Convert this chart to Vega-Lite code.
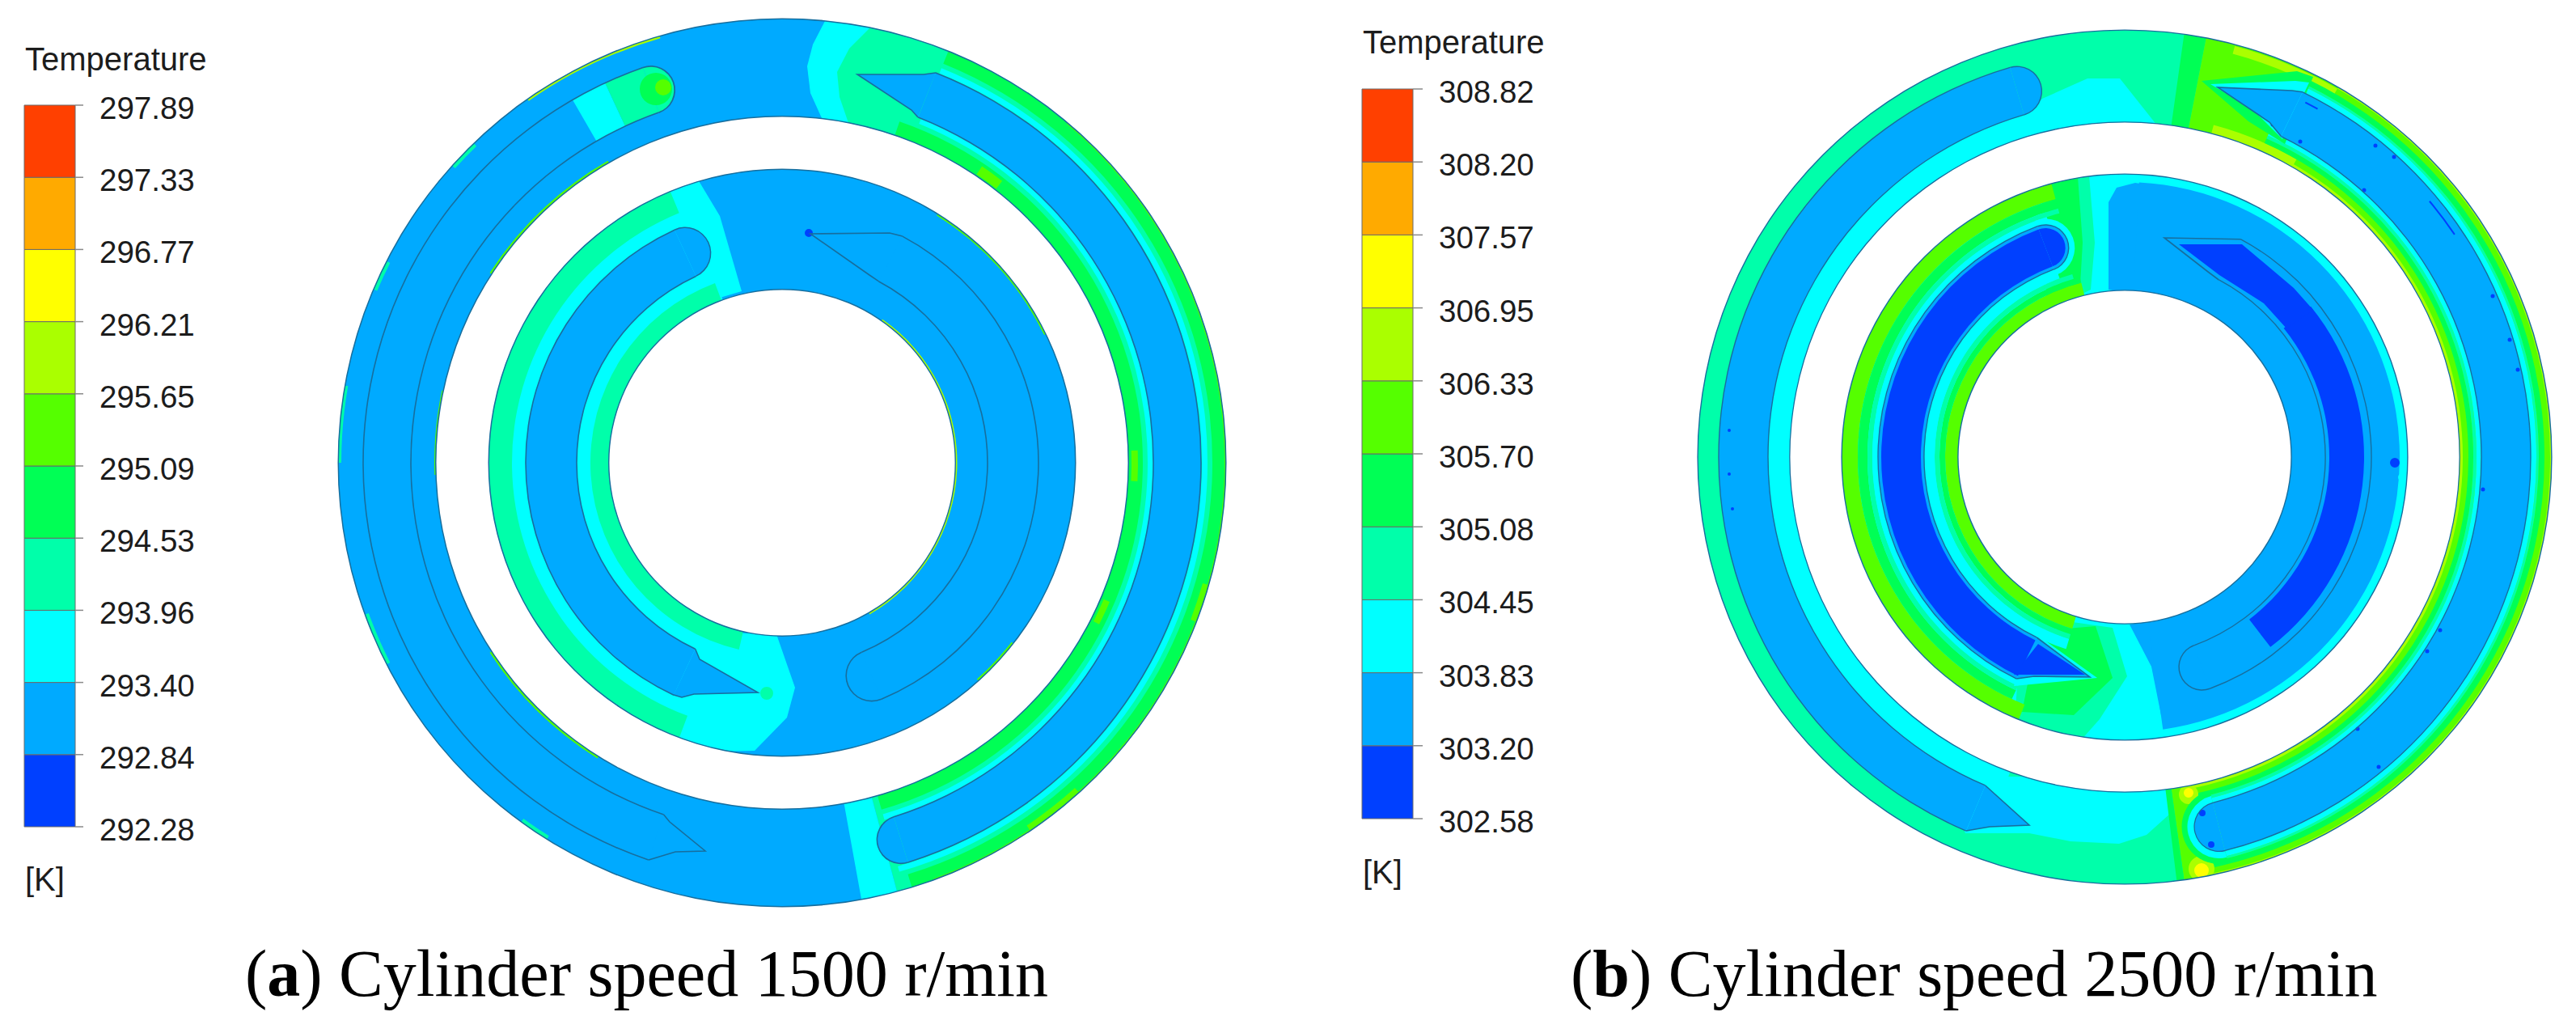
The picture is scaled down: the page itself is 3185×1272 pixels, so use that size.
{
"$schema":"https://vega.github.io/schema/vega-lite/v6.json",
"width":3185,"height":1272,"padding":0,"autosize":"none","background":"white",
"view":{"stroke":null},
"datasets":{
"arcs":[
{"z":1,"x":967,"y":572,"r0":428,"r1":549,"a0":0,"a1":360,"t":"2"},
{"z":1,"x":967,"y":572,"r0":214,"r1":363,"a0":0,"a1":360,"t":"2"},
{"z":1,"x":2627,"y":565,"r0":414,"r1":528,"a0":0,"a1":360,"t":"4"},
{"z":1,"x":2627,"y":565,"r0":206,"r1":350,"a0":0,"a1":360,"t":"3"},

{"z":2,"x":967,"y":572,"r0":428,"r1":549,"a0":19,"a1":165,"t":"4"},
{"z":2,"x":967,"y":572,"r0":428,"r1":549,"a0":165,"a1":169.7,"t":"3"},
{"z":2,"x":967,"y":572,"r0":532,"r1":549,"a0":22,"a1":163,"t":"5"},
{"z":2,"x":967,"y":572,"r0":428,"r1":446,"a0":19,"a1":164,"t":"5"},
{"z":2,"x":967,"y":572,"r0":519,"r1":526,"a0":22,"a1":164,"t":"3"},
{"z":2,"x":967,"y":572,"r0":452,"r1":459,"a0":22,"a1":164,"t":"3"},
{"z":2,"x":967,"y":572,"r0":547,"r1":549,"a0":40,"a1":160,"t":"6"},
{"z":2,"x":967,"y":572,"r0":430,"r1":442,"a0":34,"a1":38,"t":"6"},
{"z":2,"x":967,"y":572,"r0":432,"r1":440,"a0":88,"a1":93,"t":"6"},
{"z":2,"x":967,"y":572,"r0":432,"r1":440,"a0":113,"a1":117,"t":"6"},
{"z":2,"x":967,"y":572,"r0":541,"r1":549,"a0":106,"a1":111,"t":"6"},
{"z":2,"x":967,"y":572,"r0":541,"r1":549,"a0":138,"a1":146,"t":"6"},
{"z":2,"x":967,"y":572,"r0":428,"r1":431,"a0":212,"a1":237,"t":"6"},
{"z":2,"x":967,"y":572,"r0":428,"r1":431,"a0":303,"a1":330,"t":"6"},
{"z":2,"x":967,"y":572,"r0":428,"r1":430,"a0":268,"a1":282,"t":"6"},
{"z":2,"x":967,"y":572,"r0":546,"r1":549,"a0":325,"a1":344,"t":"7"},
{"z":2,"x":967,"y":572,"r0":544,"r1":549,"a0":312,"a1":316,"t":"4"},
{"z":2,"x":967,"y":572,"r0":544,"r1":549,"a0":293,"a1":297,"t":"4"},
{"z":2,"x":967,"y":572,"r0":545,"r1":549,"a0":270,"a1":280,"t":"4"},
{"z":2,"x":967,"y":572,"r0":544,"r1":549,"a0":243,"a1":250,"t":"4"},
{"z":2,"x":967,"y":572,"r0":544,"r1":549,"a0":212,"a1":216,"t":"4"},
{"z":2,"x":967,"y":572,"r0":214,"r1":363,"a0":200,"a1":340,"t":"3"},
{"z":2,"x":967,"y":572,"r0":334,"r1":363,"a0":200.5,"a1":337.6,"t":"4"},
{"z":2,"x":967,"y":572,"r0":214,"r1":237,"a0":193,"a1":339.5,"t":"4"},
{"z":2,"x":948,"y":857,"r0":0,"r1":8,"a0":0,"a1":360,"t":"4"},
{"z":2,"x":967,"y":572,"r0":214,"r1":216.5,"a0":35,"a1":150,"t":"7"},
{"z":2,"x":967,"y":572,"r0":360.5,"r1":363,"a0":32,"a1":64,"t":"6"},
{"z":2,"x":967,"y":572,"r0":360,"r1":363,"a0":128,"a1":138,"t":"6"},

{"z":2,"x":2627,"y":565,"r0":206,"r1":340,"a0":3,"a1":172,"t":"2"},
{"z":2,"x":2627,"y":565,"r0":330,"r1":350,"a0":202,"a1":345,"t":"6"},
{"z":2,"x":2627,"y":565,"r0":318,"r1":330,"a0":205,"a1":345,"t":"5"},
{"z":2,"x":2627,"y":565,"r0":312,"r1":318,"a0":205,"a1":345,"t":"4"},
{"z":2,"x":2627,"y":565,"r0":305,"r1":312,"a0":205,"a1":342,"t":"3"},
{"z":2,"x":2627,"y":565,"r0":206,"r1":222,"a0":197,"a1":346,"t":"6"},
{"z":2,"x":2627,"y":565,"r0":222,"r1":229,"a0":197,"a1":346,"t":"5"},
{"z":2,"x":2627,"y":565,"r0":229,"r1":235,"a0":197,"a1":344,"t":"4"},
{"z":2,"x":2627,"y":565,"r0":235,"r1":248,"a0":197,"a1":340,"t":"3"},
{"z":2,"x":2529.3,"y":306.4,"r0":0,"r1":36,"a0":339.3,"a1":519.3,"t":"3"},
{"z":2,"x":2961,"y":572,"r0":0,"r1":6,"a0":0,"a1":360,"t":"1"},
{"z":2,"x":2970,"y":590,"r0":0,"r1":5,"a0":0,"a1":360,"t":"3"},

{"z":2,"x":2627,"y":565,"r0":414,"r1":528,"a0":8,"a1":11,"t":"5"},
{"z":2,"x":2627,"y":565,"r0":414,"r1":528,"a0":11,"a1":172,"t":"6"},
{"z":2,"x":2627,"y":565,"r0":414,"r1":528,"a0":172,"a1":173,"t":"5"},
{"z":2,"x":2627,"y":565,"r0":516,"r1":526,"a0":15,"a1":30,"t":"7"},
{"z":2,"x":2627,"y":565,"r0":414,"r1":425,"a0":15,"a1":30,"t":"7"},
{"z":2,"x":2627,"y":565,"r0":526,"r1":528,"a0":30,"a1":170,"t":"7"},
{"z":2,"x":2627,"y":565,"r0":512,"r1":519,"a0":24,"a1":168,"t":"5"},
{"z":2,"x":2627,"y":565,"r0":509,"r1":512,"a0":24,"a1":168,"t":"4"},
{"z":2,"x":2627,"y":565,"r0":502,"r1":509,"a0":24,"a1":168,"t":"3"},
{"z":2,"x":2627,"y":565,"r0":414,"r1":418,"a0":28,"a1":170,"t":"7"},
{"z":2,"x":2627,"y":565,"r0":425,"r1":431,"a0":24,"a1":168,"t":"5"},
{"z":2,"x":2627,"y":565,"r0":431,"r1":435,"a0":24,"a1":168,"t":"4"},
{"z":2,"x":2627,"y":565,"r0":435,"r1":441,"a0":24,"a1":168,"t":"3"},
{"z":2,"x":2627,"y":565,"r0":414,"r1":441,"a0":200,"a1":345,"t":"3"},
{"z":2,"x":2706,"y":982,"r0":0,"r1":12,"a0":0,"a1":360,"t":"7"},
{"z":2,"x":2706,"y":980,"r0":0,"r1":6,"a0":0,"a1":360,"t":"8"},
{"z":2,"x":2722,"y":1074,"r0":0,"r1":16,"a0":0,"a1":360,"t":"7"},
{"z":2,"x":2722,"y":1076,"r0":0,"r1":9,"a0":0,"a1":360,"t":"8"},
{"z":2,"x":2743.5,"y":1021.9,"r0":0,"r1":46,"a0":165.7,"a1":345.7,"t":"5"},
{"z":2,"x":2743.5,"y":1021.9,"r0":0,"r1":39,"a0":165.7,"a1":345.7,"t":"3"},

{"z":3,"x":967,"y":572,"r0":549,"r1":600,"a0":0,"a1":360,"t":"w"},
{"z":3,"x":967,"y":572,"r0":363,"r1":428,"a0":0,"a1":360,"t":"w"},
{"z":3,"x":967,"y":572,"r0":0,"r1":214,"a0":0,"a1":360,"t":"w"},
{"z":3,"x":2627,"y":565,"r0":528,"r1":590,"a0":0,"a1":360,"t":"w"},
{"z":3,"x":2627,"y":565,"r0":350,"r1":414,"a0":0,"a1":360,"t":"w"},
{"z":3,"x":2627,"y":565,"r0":0,"r1":206,"a0":0,"a1":360,"t":"w"},

{"z":4,"x":967,"y":572,"r0":459,"r1":518,"a0":21.5,"a1":162.5,"t":"2"},
{"z":4,"x":1113.9,"y":1037.9,"r0":0,"r1":29.5,"a0":162.5,"a1":342.5,"t":"2"},
{"z":4,"x":967,"y":572,"r0":459,"r1":518,"a0":198.6,"a1":330,"t":"2"},
{"z":4,"x":967,"y":572,"r0":459,"r1":518,"a0":330,"a1":335,"t":"3"},
{"z":4,"x":967,"y":572,"r0":459,"r1":518,"a0":335,"a1":340.6,"t":"4"},
{"z":4,"x":804.8,"y":111.3,"r0":0,"r1":29.5,"a0":340.6,"a1":520.6,"t":"4"},
{"z":4,"x":811,"y":110,"r0":0,"r1":20,"a0":0,"a1":360,"t":"5"},
{"z":4,"x":820,"y":108,"r0":0,"r1":10,"a0":0,"a1":360,"t":"6"},
{"z":4,"x":967,"y":572,"r0":254,"r1":317,"a0":28,"a1":157.2,"t":"2"},
{"z":4,"x":1077.6,"y":835.2,"r0":0,"r1":31.5,"a0":157.2,"a1":337.2,"t":"2"},
{"z":4,"x":967,"y":572,"r0":254,"r1":317,"a0":205,"a1":335.2,"t":"2"},
{"z":4,"x":847.2,"y":312.8,"r0":0,"r1":31.5,"a0":335.2,"a1":515.2,"t":"2"},
{"z":4,"x":1000,"y":288,"r0":0,"r1":5,"a0":0,"a1":360,"t":"1"},

{"z":4,"x":2627,"y":565,"r0":441,"r1":502,"a0":26,"a1":165.7,"t":"2"},
{"z":4,"x":2743.5,"y":1021.9,"r0":0,"r1":30.5,"a0":165.7,"a1":345.7,"t":"2"},
{"z":4,"x":2627,"y":565,"r0":441,"r1":502,"a0":203,"a1":343.6,"t":"2"},
{"z":4,"x":2493.9,"y":112.7,"r0":0,"r1":30.5,"a0":343.6,"a1":523.6,"t":"2"},
{"z":4,"x":2627,"y":565,"r0":248,"r1":305,"a0":28,"a1":159.8,"t":"2"},
{"z":4,"x":2722.5,"y":824.5,"r0":0,"r1":28.5,"a0":159.8,"a1":339.8,"t":"2"},
{"z":4,"x":2627,"y":565,"r0":253,"r1":296,"a0":51,"a1":142.5,"t":"1"},
{"z":4,"x":2627,"y":565,"r0":248,"r1":305,"a0":206,"a1":339.3,"t":"2"},
{"z":4,"x":2529.3,"y":306.4,"r0":0,"r1":28.5,"a0":339.3,"a1":519.3,"t":"2"},
{"z":4,"x":2627,"y":565,"r0":252,"r1":301,"a0":205.5,"a1":339.3,"t":"1"},
{"z":4,"x":2529.3,"y":306.4,"r0":0,"r1":24.5,"a0":339.3,"a1":519.3,"t":"1"},
{"z":4,"x":2627,"y":565,"r0":491,"r1":493,"a0":50,"a1":56,"t":"1"},
{"z":4,"x":2627,"y":565,"r0":491,"r1":493,"a0":27,"a1":29,"t":"1"},
{"z":4,"x":3017,"y":779,"r0":0,"r1":2.5,"a0":0,"a1":360,"t":"1"},
{"z":4,"x":3001,"y":805,"r0":0,"r1":2.5,"a0":0,"a1":360,"t":"1"},
{"z":4,"x":2915,"y":901,"r0":0,"r1":2.5,"a0":0,"a1":360,"t":"1"},
{"z":4,"x":2941,"y":948,"r0":0,"r1":2.5,"a0":0,"a1":360,"t":"1"},
{"z":4,"x":2723,"y":1005,"r0":0,"r1":4,"a0":0,"a1":360,"t":"1"},
{"z":4,"x":2734,"y":1044,"r0":0,"r1":4,"a0":0,"a1":360,"t":"1"},
{"z":4,"x":3070,"y":605,"r0":0,"r1":2.5,"a0":0,"a1":360,"t":"1"},
{"z":4,"x":2756,"y":113,"r0":0,"r1":4,"a0":0,"a1":360,"t":"1"},
{"z":4,"x":2810,"y":154,"r0":0,"r1":2.5,"a0":0,"a1":360,"t":"1"},
{"z":4,"x":2844,"y":175,"r0":0,"r1":2.5,"a0":0,"a1":360,"t":"1"},
{"z":4,"x":2923,"y":235,"r0":0,"r1":2.5,"a0":0,"a1":360,"t":"1"},
{"z":4,"x":2937,"y":180,"r0":0,"r1":2.5,"a0":0,"a1":360,"t":"1"},
{"z":4,"x":2960,"y":194,"r0":0,"r1":2.5,"a0":0,"a1":360,"t":"1"},
{"z":4,"x":3082,"y":366,"r0":0,"r1":2.5,"a0":0,"a1":360,"t":"1"},
{"z":4,"x":3103,"y":420,"r0":0,"r1":2.5,"a0":0,"a1":360,"t":"1"},
{"z":4,"x":3113,"y":457,"r0":0,"r1":2.5,"a0":0,"a1":360,"t":"1"},
{"z":4,"x":2138,"y":532,"r0":0,"r1":2,"a0":0,"a1":360,"t":"1"},
{"z":4,"x":2138,"y":586,"r0":0,"r1":2,"a0":0,"a1":360,"t":"1"},
{"z":4,"x":2142,"y":629,"r0":0,"r1":2,"a0":0,"a1":360,"t":"1"},

{"z":5,"x":967,"y":572,"r0":548,"r1":549.5,"a0":0,"a1":360,"t":"e"},
{"z":5,"x":967,"y":572,"r0":427.5,"r1":429,"a0":0,"a1":360,"t":"e"},
{"z":5,"x":967,"y":572,"r0":362,"r1":363.5,"a0":0,"a1":360,"t":"e"},
{"z":5,"x":967,"y":572,"r0":213.5,"r1":215,"a0":0,"a1":360,"t":"e"},
{"z":5,"x":967,"y":572,"r0":458.2,"r1":459.8,"a0":21.5,"a1":162.5,"t":"e"},
{"z":5,"x":967,"y":572,"r0":517.2,"r1":518.8,"a0":21.5,"a1":162.5,"t":"e"},
{"z":5,"x":1113.9,"y":1037.9,"r0":28.7,"r1":30.3,"a0":162.5,"a1":342.5,"t":"e"},
{"z":5,"x":967,"y":572,"r0":458.2,"r1":459.8,"a0":198.6,"a1":340.6,"t":"e"},
{"z":5,"x":967,"y":572,"r0":517.2,"r1":518.8,"a0":198.6,"a1":340.6,"t":"e"},
{"z":5,"x":804.8,"y":111.3,"r0":28.7,"r1":30.3,"a0":340.6,"a1":520.6,"t":"e"},
{"z":5,"x":967,"y":572,"r0":253.2,"r1":254.8,"a0":28,"a1":157.2,"t":"e"},
{"z":5,"x":967,"y":572,"r0":316.2,"r1":317.8,"a0":28,"a1":157.2,"t":"e"},
{"z":5,"x":1077.6,"y":835.2,"r0":30.7,"r1":32.3,"a0":157.2,"a1":337.2,"t":"e"},
{"z":5,"x":967,"y":572,"r0":253.2,"r1":254.8,"a0":205,"a1":335.2,"t":"e"},
{"z":5,"x":967,"y":572,"r0":316.2,"r1":317.8,"a0":205,"a1":335.2,"t":"e"},
{"z":5,"x":847.2,"y":312.8,"r0":30.7,"r1":32.3,"a0":335.2,"a1":515.2,"t":"e"},
{"z":5,"x":2627,"y":565,"r0":527.2,"r1":528.6,"a0":0,"a1":360,"t":"e"},
{"z":5,"x":2627,"y":565,"r0":413.4,"r1":414.8,"a0":0,"a1":360,"t":"e"},
{"z":5,"x":2627,"y":565,"r0":349.2,"r1":350.6,"a0":0,"a1":360,"t":"e"},
{"z":5,"x":2627,"y":565,"r0":205.4,"r1":206.8,"a0":0,"a1":360,"t":"e"},
{"z":5,"x":2627,"y":565,"r0":440.3,"r1":441.7,"a0":26,"a1":165.7,"t":"e"},
{"z":5,"x":2627,"y":565,"r0":501.3,"r1":502.7,"a0":26,"a1":165.7,"t":"e"},
{"z":5,"x":2743.5,"y":1021.9,"r0":29.8,"r1":31.2,"a0":165.7,"a1":345.7,"t":"e"},
{"z":5,"x":2627,"y":565,"r0":440.3,"r1":441.7,"a0":203,"a1":343.6,"t":"e"},
{"z":5,"x":2627,"y":565,"r0":501.3,"r1":502.7,"a0":203,"a1":343.6,"t":"e"},
{"z":5,"x":2493.9,"y":112.7,"r0":29.8,"r1":31.2,"a0":343.6,"a1":523.6,"t":"e"},
{"z":5,"x":2627,"y":565,"r0":247.4,"r1":248.8,"a0":28,"a1":159.8,"t":"e"},
{"z":5,"x":2627,"y":565,"r0":304.3,"r1":305.7,"a0":28,"a1":159.8,"t":"e"},
{"z":5,"x":2722.5,"y":824.5,"r0":27.8,"r1":29.2,"a0":159.8,"a1":339.8,"t":"e"},
{"z":5,"x":2627,"y":565,"r0":247.4,"r1":248.8,"a0":206,"a1":339.3,"t":"e"},
{"z":5,"x":2627,"y":565,"r0":304.3,"r1":305.7,"a0":206,"a1":339.3,"t":"e"},
{"z":5,"x":2529.3,"y":306.4,"r0":27.8,"r1":29.2,"a0":339.3,"a1":519.3,"t":"e"}
],
"polys":[
{"z":1,"id":"p1","i":0,"x":1020,"y":26,"t":"3"},{"z":1,"id":"p1","i":1,"x":1005,"y":55,"t":"3"},{"z":1,"id":"p1","i":2,"x":998,"y":82,"t":"3"},{"z":1,"id":"p1","i":3,"x":1002,"y":115,"t":"3"},{"z":1,"id":"p1","i":4,"x":1016,"y":146,"t":"3"},{"z":1,"id":"p1","i":5,"x":1060,"y":155,"t":"3"},{"z":1,"id":"p1","i":6,"x":1090,"y":30,"t":"3"},
{"z":1,"id":"p2","i":0,"x":1076,"y":34,"t":"4"},{"z":1,"id":"p2","i":1,"x":1050,"y":60,"t":"4"},{"z":1,"id":"p2","i":2,"x":1035,"y":89,"t":"4"},{"z":1,"id":"p2","i":3,"x":1038,"y":120,"t":"4"},{"z":1,"id":"p2","i":4,"x":1049,"y":152,"t":"4"},{"z":1,"id":"p2","i":5,"x":1150,"y":180,"t":"4"},{"z":1,"id":"p2","i":6,"x":1200,"y":60,"t":"4"},
{"z":1,"id":"p3","i":0,"x":863,"y":222,"t":"3"},{"z":1,"id":"p3","i":1,"x":890,"y":267,"t":"3"},{"z":1,"id":"p3","i":2,"x":917,"y":360,"t":"3"},{"z":1,"id":"p3","i":3,"x":850,"y":380,"t":"3"},{"z":1,"id":"p3","i":4,"x":800,"y":240,"t":"3"},
{"z":1,"id":"p4","i":0,"x":960,"y":784,"t":"3"},{"z":1,"id":"p4","i":1,"x":983,"y":850,"t":"3"},{"z":1,"id":"p4","i":2,"x":973,"y":887,"t":"3"},{"z":1,"id":"p4","i":3,"x":933,"y":928,"t":"3"},{"z":1,"id":"p4","i":4,"x":830,"y":930,"t":"3"},{"z":1,"id":"p4","i":5,"x":830,"y":780,"t":"3"},
{"z":1,"id":"p5","i":0,"x":2607,"y":358,"t":"2"},{"z":1,"id":"p5","i":1,"x":2607,"y":250,"t":"2"},{"z":1,"id":"p5","i":2,"x":2617,"y":232,"t":"2"},{"z":1,"id":"p5","i":3,"x":2640,"y":226,"t":"2"},{"z":1,"id":"p5","i":4,"x":2690,"y":234,"t":"2"},{"z":1,"id":"p5","i":5,"x":2690,"y":375,"t":"2"},
{"z":1,"id":"p6","i":0,"x":2633,"y":772,"t":"2"},{"z":1,"id":"p6","i":1,"x":2660,"y":824,"t":"2"},{"z":1,"id":"p6","i":2,"x":2672,"y":884,"t":"2"},{"z":1,"id":"p6","i":3,"x":2692,"y":893,"t":"2"},{"z":1,"id":"p6","i":4,"x":2750,"y":880,"t":"2"},{"z":1,"id":"p6","i":5,"x":2750,"y":750,"t":"2"},
{"z":1,"id":"p7","i":0,"x":2530,"y":205,"t":"4"},{"z":1,"id":"p7","i":1,"x":2582,"y":205,"t":"4"},{"z":1,"id":"p7","i":2,"x":2590,"y":300,"t":"4"},{"z":1,"id":"p7","i":3,"x":2585,"y":358,"t":"4"},{"z":1,"id":"p7","i":4,"x":2540,"y":380,"t":"4"},{"z":1,"id":"p7","i":5,"x":2520,"y":300,"t":"4"},
{"z":1,"id":"p8","i":0,"x":2530,"y":205,"t":"5"},{"z":1,"id":"p8","i":1,"x":2568,"y":205,"t":"5"},{"z":1,"id":"p8","i":2,"x":2575,"y":300,"t":"5"},{"z":1,"id":"p8","i":3,"x":2572,"y":352,"t":"5"},{"z":1,"id":"p8","i":4,"x":2530,"y":370,"t":"5"},
{"z":1,"id":"p9","i":0,"x":2612,"y":776,"t":"4"},{"z":1,"id":"p9","i":1,"x":2630,"y":836,"t":"4"},{"z":1,"id":"p9","i":2,"x":2596,"y":889,"t":"4"},{"z":1,"id":"p9","i":3,"x":2564,"y":925,"t":"4"},{"z":1,"id":"p9","i":4,"x":2490,"y":905,"t":"4"},{"z":1,"id":"p9","i":5,"x":2500,"y":760,"t":"4"},
{"z":1,"id":"p10","i":0,"x":2591,"y":774,"t":"5"},{"z":1,"id":"p10","i":1,"x":2612,"y":838,"t":"5"},{"z":1,"id":"p10","i":2,"x":2564,"y":884,"t":"5"},{"z":1,"id":"p10","i":3,"x":2500,"y":880,"t":"5"},{"z":1,"id":"p10","i":4,"x":2520,"y":780,"t":"5"},
{"z":1,"id":"p11","i":0,"x":2525,"y":122,"t":"3"},{"z":1,"id":"p11","i":1,"x":2581,"y":97,"t":"3"},{"z":1,"id":"p11","i":2,"x":2621,"y":97,"t":"3"},{"z":1,"id":"p11","i":3,"x":2667,"y":155,"t":"3"},{"z":1,"id":"p11","i":4,"x":2600,"y":175,"t":"3"},{"z":1,"id":"p11","i":5,"x":2480,"y":170,"t":"3"},
{"z":1,"id":"p12","i":0,"x":2685,"y":970,"t":"3"},{"z":1,"id":"p12","i":1,"x":2684,"y":1005,"t":"3"},{"z":1,"id":"p12","i":2,"x":2654,"y":1032,"t":"3"},{"z":1,"id":"p12","i":3,"x":2620,"y":1043,"t":"3"},{"z":1,"id":"p12","i":4,"x":2560,"y":1040,"t":"3"},{"z":1,"id":"p12","i":5,"x":2509,"y":1030,"t":"3"},{"z":1,"id":"p12","i":6,"x":2430,"y":1030,"t":"3"},{"z":1,"id":"p12","i":7,"x":2400,"y":960,"t":"3"},{"z":1,"id":"p12","i":8,"x":2600,"y":960,"t":"3"},

{"z":2,"id":"h1","i":0,"x":2722,"y":100,"t":"5"},{"z":2,"id":"h1","i":1,"x":2840,"y":88,"t":"5"},{"z":2,"id":"h1","i":2,"x":2860,"y":95,"t":"5"},{"z":2,"id":"h1","i":3,"x":2825,"y":178,"t":"5"},{"z":2,"id":"h1","i":4,"x":2780,"y":150,"t":"5"},
{"z":2,"id":"h2","i":0,"x":2733,"y":104,"t":"3"},{"z":2,"id":"h2","i":1,"x":2838,"y":100,"t":"3"},{"z":2,"id":"h2","i":2,"x":2855,"y":102,"t":"3"},{"z":2,"id":"h2","i":3,"x":2822,"y":172,"t":"3"},{"z":2,"id":"h2","i":4,"x":2785,"y":135,"t":"3"},
{"z":2,"id":"h3","i":0,"x":2593,"y":838,"t":"3"},{"z":2,"id":"h3","i":1,"x":2490,"y":848,"t":"3"},{"z":2,"id":"h3","i":2,"x":2512,"y":780,"t":"3"},

{"z":3,"id":"t1","i":0,"x":1060,"y":92,"t":"2"},{"z":3,"id":"t1","i":1,"x":1142,"y":92,"t":"2"},{"z":3,"id":"t1","i":2,"x":1157,"y":90,"t":"2"},{"z":3,"id":"t1","i":3,"x":1135,"y":145,"t":"2"},{"z":3,"id":"t1","i":4,"x":1127,"y":136,"t":"2"},
{"z":3,"id":"t2","i":0,"x":872,"y":1052,"t":"2"},{"z":3,"id":"t2","i":1,"x":835,"y":1053,"t":"2"},{"z":3,"id":"t2","i":2,"x":802,"y":1063,"t":"2"},{"z":3,"id":"t2","i":3,"x":820.6,"y":1007,"t":"2"},{"z":3,"id":"t2","i":4,"x":828,"y":1016,"t":"2"},
{"z":3,"id":"t3","i":0,"x":1002,"y":289,"t":"2"},{"z":3,"id":"t3","i":1,"x":1100,"y":288,"t":"2"},{"z":3,"id":"t3","i":2,"x":1115.8,"y":292,"t":"2"},{"z":3,"id":"t3","i":3,"x":1086.3,"y":347.7,"t":"2"},{"z":3,"id":"t3","i":4,"x":1075,"y":340,"t":"2"},
{"z":3,"id":"t4","i":0,"x":937,"y":856,"t":"2"},{"z":3,"id":"t4","i":1,"x":858,"y":858,"t":"2"},{"z":3,"id":"t4","i":2,"x":843,"y":862,"t":"2"},{"z":3,"id":"t4","i":3,"x":833,"y":859,"t":"2"},{"z":3,"id":"t4","i":4,"x":859.7,"y":802.2,"t":"2"},{"z":3,"id":"t4","i":5,"x":865,"y":815,"t":"2"},
{"z":3,"id":"t5","i":0,"x":2742,"y":108,"t":"2"},{"z":3,"id":"t5","i":1,"x":2834,"y":112,"t":"2"},{"z":3,"id":"t5","i":2,"x":2847,"y":113.8,"t":"2"},{"z":3,"id":"t5","i":3,"x":2820.3,"y":168.6,"t":"2"},{"z":3,"id":"t5","i":4,"x":2806,"y":151,"t":"2"},
{"z":3,"id":"t6","i":0,"x":2509,"y":1020,"t":"2"},{"z":3,"id":"t6","i":1,"x":2460,"y":1022,"t":"2"},{"z":3,"id":"t6","i":2,"x":2431,"y":1027,"t":"2"},{"z":3,"id":"t6","i":3,"x":2454.7,"y":971,"t":"2"},
{"z":3,"id":"t7","i":0,"x":2676,"y":294,"t":"2"},{"z":3,"id":"t7","i":1,"x":2765,"y":296,"t":"2"},{"z":3,"id":"t7","i":2,"x":2770.2,"y":295.7,"t":"2"},{"z":3,"id":"t7","i":3,"x":2743.4,"y":346,"t":"2"},{"z":3,"id":"t7","i":4,"x":2730,"y":336,"t":"2"},
{"z":3,"id":"t8","i":0,"x":2584,"y":837,"t":"2"},{"z":3,"id":"t8","i":1,"x":2515,"y":836,"t":"2"},{"z":3,"id":"t8","i":2,"x":2493.3,"y":839,"t":"2"},{"z":3,"id":"t8","i":3,"x":2518.3,"y":788,"t":"2"},

{"z":4,"id":"d1","i":0,"x":2694,"y":302,"t":"1"},{"z":4,"id":"d1","i":1,"x":2772,"y":302,"t":"1"},{"z":4,"id":"d1","i":2,"x":2797,"y":323,"t":"1"},{"z":4,"id":"d1","i":3,"x":2836,"y":356,"t":"1"},{"z":4,"id":"d1","i":4,"x":2860,"y":383,"t":"1"},{"z":4,"id":"d1","i":5,"x":2827,"y":406,"t":"1"},{"z":4,"id":"d1","i":6,"x":2799,"y":375,"t":"1"},{"z":4,"id":"d1","i":7,"x":2744,"y":340,"t":"1"},
{"z":4,"id":"d2","i":0,"x":2578,"y":834,"t":"1"},{"z":4,"id":"d2","i":1,"x":2490,"y":834,"t":"1"},{"z":4,"id":"d2","i":2,"x":2520,"y":796,"t":"1"}
],
"paths":[
{"id":"o1","i":0,"x":1157,"y":90},{"id":"o1","i":1,"x":1142,"y":92},{"id":"o1","i":2,"x":1060,"y":92},{"id":"o1","i":3,"x":1127,"y":136},{"id":"o1","i":4,"x":1135,"y":145},
{"id":"o2","i":0,"x":802,"y":1063},{"id":"o2","i":1,"x":835,"y":1053},{"id":"o2","i":2,"x":872,"y":1052},{"id":"o2","i":3,"x":828,"y":1016},{"id":"o2","i":4,"x":820.6,"y":1007},
{"id":"o3","i":0,"x":1115.8,"y":292},{"id":"o3","i":1,"x":1100,"y":288},{"id":"o3","i":2,"x":1002,"y":289},{"id":"o3","i":3,"x":1075,"y":340},{"id":"o3","i":4,"x":1086.3,"y":347.7},
{"id":"o4","i":0,"x":833,"y":859},{"id":"o4","i":1,"x":843,"y":862},{"id":"o4","i":2,"x":858,"y":858},{"id":"o4","i":3,"x":937,"y":856},{"id":"o4","i":4,"x":865,"y":815},{"id":"o4","i":5,"x":859.7,"y":802.2},
{"id":"o5","i":0,"x":2847,"y":113.8},{"id":"o5","i":1,"x":2834,"y":112},{"id":"o5","i":2,"x":2742,"y":108},{"id":"o5","i":3,"x":2806,"y":151},{"id":"o5","i":4,"x":2820.3,"y":168.6},
{"id":"o6","i":0,"x":2431,"y":1027},{"id":"o6","i":1,"x":2460,"y":1022},{"id":"o6","i":2,"x":2509,"y":1020},{"id":"o6","i":3,"x":2454.7,"y":971},
{"id":"o7","i":0,"x":2770.2,"y":295.7},{"id":"o7","i":1,"x":2676,"y":294},{"id":"o7","i":2,"x":2730,"y":336},{"id":"o7","i":3,"x":2743.4,"y":346},
{"id":"o8","i":0,"x":2493.3,"y":839},{"id":"o8","i":1,"x":2515,"y":836},{"id":"o8","i":2,"x":2584,"y":837},{"id":"o8","i":3,"x":2518.3,"y":788}
],
"cells":[
{"x":30,"x2":93,"y":1022,"y2":932.8,"t":"1"},{"x":30,"x2":93,"y":932.8,"y2":843.6,"t":"2"},{"x":30,"x2":93,"y":843.6,"y2":754.4,"t":"3"},{"x":30,"x2":93,"y":754.4,"y2":665.2,"t":"4"},{"x":30,"x2":93,"y":665.2,"y2":576,"t":"5"},{"x":30,"x2":93,"y":576,"y2":486.8,"t":"6"},{"x":30,"x2":93,"y":486.8,"y2":397.6,"t":"7"},{"x":30,"x2":93,"y":397.6,"y2":308.4,"t":"8"},{"x":30,"x2":93,"y":308.4,"y2":219.2,"t":"9"},{"x":30,"x2":93,"y":219.2,"y2":130,"t":"10"},
{"x":1684,"x2":1747,"y":1012,"y2":921.8,"t":"1"},{"x":1684,"x2":1747,"y":921.8,"y2":831.6,"t":"2"},{"x":1684,"x2":1747,"y":831.6,"y2":741.4,"t":"3"},{"x":1684,"x2":1747,"y":741.4,"y2":651.2,"t":"4"},{"x":1684,"x2":1747,"y":651.2,"y2":561,"t":"5"},{"x":1684,"x2":1747,"y":561,"y2":470.8,"t":"6"},{"x":1684,"x2":1747,"y":470.8,"y2":380.6,"t":"7"},{"x":1684,"x2":1747,"y":380.6,"y2":290.4,"t":"8"},{"x":1684,"x2":1747,"y":290.4,"y2":200.2,"t":"9"},{"x":1684,"x2":1747,"y":200.2,"y2":110,"t":"10"}
],
"ticks":[
{"x":93,"x2":103,"y":130,"lx":123,"s":"297.89"},{"x":93,"x2":103,"y":219.2,"lx":123,"s":"297.33"},{"x":93,"x2":103,"y":308.4,"lx":123,"s":"296.77"},{"x":93,"x2":103,"y":397.6,"lx":123,"s":"296.21"},{"x":93,"x2":103,"y":486.8,"lx":123,"s":"295.65"},{"x":93,"x2":103,"y":576,"lx":123,"s":"295.09"},{"x":93,"x2":103,"y":665.2,"lx":123,"s":"294.53"},{"x":93,"x2":103,"y":754.4,"lx":123,"s":"293.96"},{"x":93,"x2":103,"y":843.6,"lx":123,"s":"293.40"},{"x":93,"x2":103,"y":932.8,"lx":123,"s":"292.84"},{"x":93,"x2":103,"y":1022,"lx":123,"s":"292.28"},
{"x":1747,"x2":1759,"y":110,"lx":1779,"s":"308.82"},{"x":1747,"x2":1759,"y":200.2,"lx":1779,"s":"308.20"},{"x":1747,"x2":1759,"y":290.4,"lx":1779,"s":"307.57"},{"x":1747,"x2":1759,"y":380.6,"lx":1779,"s":"306.95"},{"x":1747,"x2":1759,"y":470.8,"lx":1779,"s":"306.33"},{"x":1747,"x2":1759,"y":561,"lx":1779,"s":"305.70"},{"x":1747,"x2":1759,"y":651.2,"lx":1779,"s":"305.08"},{"x":1747,"x2":1759,"y":741.4,"lx":1779,"s":"304.45"},{"x":1747,"x2":1759,"y":831.6,"lx":1779,"s":"303.83"},{"x":1747,"x2":1759,"y":921.8,"lx":1779,"s":"303.20"},{"x":1747,"x2":1759,"y":1012,"lx":1779,"s":"302.58"}
],
"heads":[
{"x":31,"y":75,"s":"Temperature"},{"x":31,"y":1089,"s":"[K]"},
{"x":1685,"y":54,"s":"Temperature"},{"x":1685,"y":1080,"s":"[K]"}
],
"caps":[
{"x":303,"y":1206,"s":"("},{"x":371.3,"y":1206,"s":") Cylinder speed 1500 r/min"},
{"x":1942,"y":1206,"s":"("},{"x":2014.9,"y":1206,"s":") Cylinder speed 2500 r/min"}
],
"capsb":[
{"x":330.3,"y":1206,"s":"a"},{"x":1969.3,"y":1206,"s":"b"}
]
},
"encoding":{
"x":{"field":"x","type":"quantitative","scale":{"domain":[0,3185],"range":[0,3185],"nice":false,"zero":false},"axis":null},
"y":{"field":"y","type":"quantitative","scale":{"domain":[0,1272],"range":[0,1272],"nice":false,"zero":false},"axis":null}
},
"layer":[
{"data":{"name":"arcs"},"transform":[{"filter":"datum.z==1"}],"mark":{"type":"arc"},"encoding":{
"theta":{"field":"a0","type":"quantitative","stack":null,"scale":{"domain":[0,360],"range":[0,6.283185]}},"theta2":{"field":"a1"},
"radius":{"field":"r1","type":"quantitative","scale":{"type":"linear","domain":[0,1000],"range":[0,1000]}},"radius2":{"field":"r0"},
"fill":{"field":"t","type":"nominal","legend":null,"scale":{"domain":["1","2","3","4","5","6","7","8","9","10","w","e"],"range":["#0040ff","#00aaff","#00ffff","#00ffaa","#00ff55","#55ff00","#aaff00","#ffff00","#ffaa00","#ff4000","#ffffff","#176e9e"]}}}},
{"data":{"name":"polys"},"transform":[{"filter":"datum.z==1"}],"mark":{"type":"line","interpolate":"linear-closed","strokeWidth":0},"encoding":{
"order":{"field":"i","type":"quantitative"},"detail":{"field":"id"},
"fill":{"field":"t","type":"nominal","legend":null}}},
{"data":{"name":"arcs"},"transform":[{"filter":"datum.z==2"}],"mark":{"type":"arc"},"encoding":{
"theta":{"field":"a0","type":"quantitative","stack":null},"theta2":{"field":"a1"},
"radius":{"field":"r1","type":"quantitative"},"radius2":{"field":"r0"},
"fill":{"field":"t","type":"nominal","legend":null}}},
{"data":{"name":"polys"},"transform":[{"filter":"datum.z==2"}],"mark":{"type":"line","interpolate":"linear-closed","strokeWidth":0},"encoding":{
"order":{"field":"i","type":"quantitative"},"detail":{"field":"id"},
"fill":{"field":"t","type":"nominal","legend":null}}},
{"data":{"name":"arcs"},"transform":[{"filter":"datum.z==3||datum.z==4"}],"mark":{"type":"arc"},"encoding":{
"theta":{"field":"a0","type":"quantitative","stack":null},"theta2":{"field":"a1"},
"radius":{"field":"r1","type":"quantitative"},"radius2":{"field":"r0"},
"fill":{"field":"t","type":"nominal","legend":null}}},
{"data":{"name":"polys"},"transform":[{"filter":"datum.z==3"}],"mark":{"type":"line","interpolate":"linear-closed","strokeWidth":0},"encoding":{
"order":{"field":"i","type":"quantitative"},"detail":{"field":"id"},
"fill":{"field":"t","type":"nominal","legend":null}}},
{"data":{"name":"polys"},"transform":[{"filter":"datum.z==4"}],"mark":{"type":"line","interpolate":"linear-closed","strokeWidth":0},"encoding":{
"order":{"field":"i","type":"quantitative"},"detail":{"field":"id"},
"fill":{"field":"t","type":"nominal","legend":null}}},
{"data":{"name":"arcs"},"transform":[{"filter":"datum.z==5"}],"mark":{"type":"arc"},"encoding":{
"theta":{"field":"a0","type":"quantitative","stack":null},"theta2":{"field":"a1"},
"radius":{"field":"r1","type":"quantitative"},"radius2":{"field":"r0"},
"fill":{"field":"t","type":"nominal","legend":null}}},
{"data":{"name":"paths"},"mark":{"type":"line","stroke":"#176e9e","strokeWidth":1.6},"encoding":{
"order":{"field":"i","type":"quantitative"},"detail":{"field":"id"}}},
{"data":{"name":"cells"},"mark":{"type":"rect","stroke":"#6b6b6b","strokeWidth":1},"encoding":{
"x2":{"field":"x2"},"y2":{"field":"y2"},
"fill":{"field":"t","type":"nominal","legend":null}}},
{"data":{"name":"ticks"},"mark":{"type":"rule","stroke":"#8a8a8a","strokeWidth":1.5},"encoding":{"x2":{"field":"x2"}}},
{"data":{"name":"ticks"},"mark":{"type":"text","align":"left","baseline":"middle","font":"Liberation Sans","fontSize":38.5,"dy":5,"fill":"#1c1c1c"},"encoding":{
"x":{"field":"lx","type":"quantitative"},"text":{"field":"s"}}},
{"data":{"name":"heads"},"mark":{"type":"text","align":"left","baseline":"middle","font":"Liberation Sans","fontSize":40,"fill":"#1c1c1c"},"encoding":{"text":{"field":"s"}}},
{"data":{"name":"caps"},"mark":{"type":"text","align":"left","baseline":"middle","font":"Liberation Serif","fontSize":82,"fill":"#000000"},"encoding":{"text":{"field":"s"}}},
{"data":{"name":"capsb"},"mark":{"type":"text","align":"left","baseline":"middle","font":"Liberation Serif","fontSize":82,"fontWeight":"bold","fill":"#000000"},"encoding":{"text":{"field":"s"}}}
]
}
